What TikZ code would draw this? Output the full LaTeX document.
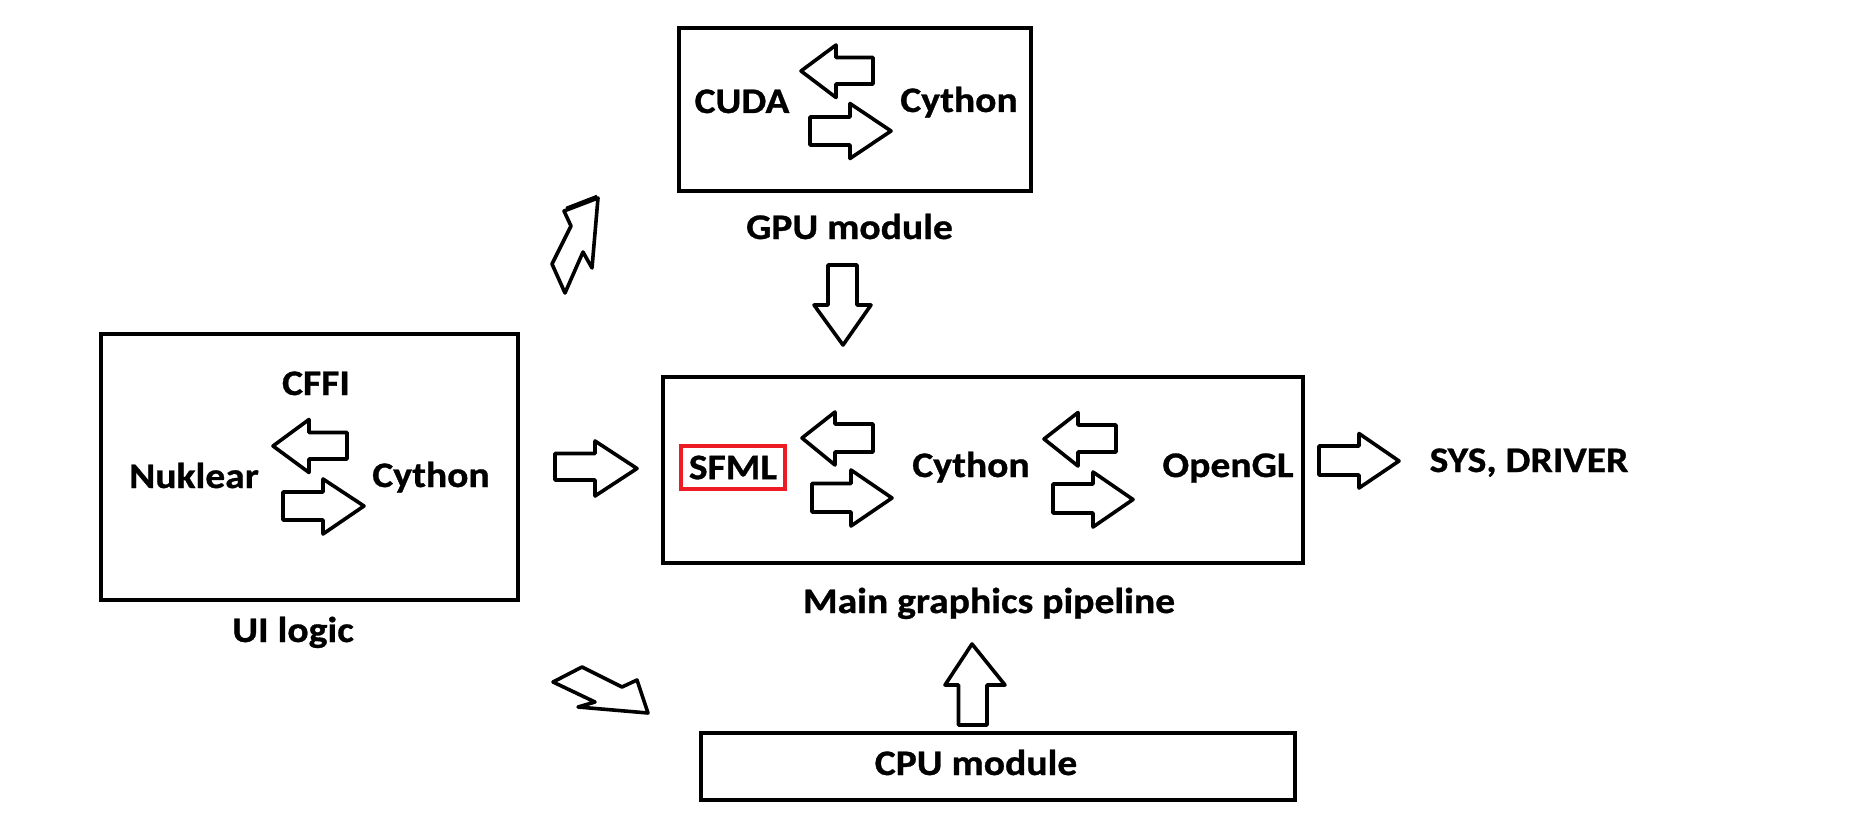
\documentclass[tikz,border=0pt]{standalone}
\usepackage{fontspec}
\setmainfont{Carlito}[BoldFeatures={FakeStretch=1.1,FakeBold=0.8}]
\definecolor{paintred}{HTML}{ED1C24}
% right-pointing block arrow: body-left, body-top, body-bottom, head-base, head-top, head-bottom, tip-x, tip-y
\newcommand\myRArrow[8]{\draw[blk] (#1,#2) -- (#4,#2) -- (#4,#5) -- (#7,#8) -- (#4,#6) -- (#4,#3) -- (#1,#3) -- cycle;}
% left-pointing block arrow: body-right, body-top, body-bottom, head-base, head-top, head-bottom, tip-x, tip-y
\newcommand\myLArrow[8]{\draw[blk] (#1,#2) -- (#4,#2) -- (#4,#5) -- (#7,#8) -- (#4,#6) -- (#4,#3) -- (#1,#3) -- cycle;}
\begin{document}
\begin{tikzpicture}[x=1pt,y=-1pt,
  box/.style={draw=black, line width=4pt, inner sep=0pt},
  lbl/.style={font=\fontsize{36}{40}\selectfont\bfseries, inner sep=0pt, anchor=base},
  blk/.style={draw=black, line width=3.6pt, line join=round, fill=white}]
\useasboundingbox (0,0) rectangle (1860,832);
\fill[white] (0,0) rectangle (1860,832);

% boxes
\node[box, minimum width=352pt, minimum height=163pt] (gpu) at (855,109.5) {};
\node[box, minimum width=417pt, minimum height=266pt] (ui) at (309.5,467) {};
\node[box, minimum width=640pt, minimum height=186pt] (main) at (983,470) {};
\node[box, minimum width=594pt, minimum height=67pt] (cpu) at (998,766.5) {};

% labels
\node[lbl] (cuda) at (742,113) {CUDA};
\node[lbl] (cyg) at (959,112) {Cython};
\node[lbl] (gpulbl) at (849.5,239) {GPU module};
\node[lbl] (cffi) at (316,395) {CFFI};
\node[lbl] (nuk) at (194,488) {Nuklear};
\node[lbl] (cyui) at (431,487) {Cython};
\node[lbl] (uilbl) at (293,642) {UI logic};
\node[draw=paintred, line width=3.3pt, minimum width=104pt, minimum height=43pt, inner sep=0pt,
      font=\fontsize{36}{40}\selectfont\bfseries] (sfml) at (733,467.5) {SFML};
\node[lbl] (cym) at (971,477) {Cython};
\node[lbl] (ogl) at (1228,477) {OpenGL};
\node[lbl] (sys) at (1529,472) {SYS, DRIVER};
\node[lbl] (mainlbl) at (989,613) {Main graphics pipeline};
\node[lbl] (cpulbl) at (976,775) {CPU module};

% block arrows inside GPU module
\myLArrow{873}{57.5}{84}{836}{45}{97.5}{801}{71}
\myRArrow{810}{117}{145}{850}{103.5}{158.5}{891}{131}
% inside UI logic
\myLArrow{347}{432.5}{459}{309}{419.5}{472.5}{273}{446}
\myRArrow{283}{492}{520}{323}{479}{534}{364}{506}
% inside main pipeline
\myLArrow{873}{424}{452}{835}{412}{465}{802}{438}
\myRArrow{812}{483.5}{512}{851}{470}{526}{892}{498}
\myLArrow{1116}{425}{452}{1078}{412.5}{466}{1044}{439}
\myRArrow{1053}{484}{513}{1093}{472}{527}{1133}{499.5}
% UI -> main, main -> SYS
\myRArrow{555}{453.5}{480}{595}{441}{496}{637}{468.5}
\myRArrow{1319}{446}{475}{1359}{433.5}{488}{1399}{461}
% GPU -> main (down)
\draw[blk] (828,265) -- (857,265) -- (857,305) -- (871,305) -- (843,345) -- (814,305) -- (828,305) -- cycle;
% CPU -> main (up)
\draw[blk] (958.5,725) -- (987,725) -- (987,685) -- (1005,685) -- (972,644) -- (945,685) -- (958.5,685) -- cycle;
% hand-drawn tilted arrows
\draw[blk] (598,198) -- (564,211) -- (571,226) -- (552,264) -- (565,293) -- (583,252) -- (592,268) -- cycle;
\draw[black, line width=2.5pt] (566,208) -- (597,196);
\draw[blk] (553,682) -- (582,667) -- (622,687) -- (637,680) -- (648,713) -- (578,707) -- (595,702) -- cycle;
\end{tikzpicture}
\end{document}
